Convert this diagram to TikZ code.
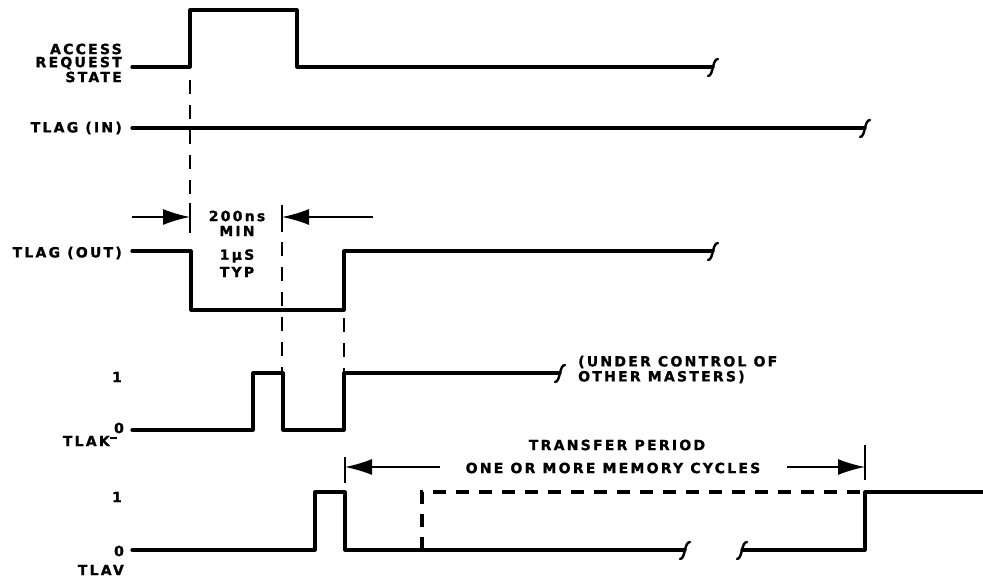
\documentclass[tikz,border=0pt]{standalone}
\usepackage{fontspec}
\setmainfont{DejaVu Sans}[LetterSpace=16, BoldFeatures={FakeBold=1.2}]
\usetikzlibrary{arrows.meta}
\tikzset{
  wave/.style={line width=3.2pt, line join=round, line cap=round},
  dwave/.style={line width=3.2pt, dash pattern=on 13pt off 10pt},
  guide/.style={line width=1.7pt, dash pattern=on 14pt off 11pt},
  tickline/.style={line width=1.7pt},
  dimarrow/.style={line width=1.6pt, -{Latex[length=27pt,width=16pt]}},
  lbl/.style={font=\bfseries\fontsize{14}{15}\selectfont, inner sep=0pt},
  brk/.pic={\draw[line width=2.4pt, line cap=round] (-5,9) .. controls (-2,9) and (-1,4) .. (0,0) .. controls (1,-4) and (2,-8) .. (5,-8);}
}
\begin{document}
\begin{tikzpicture}[x=1pt,y=-1pt]
\useasboundingbox (0,0) rectangle (983,579);

% labels
\node[lbl,anchor=east] (acc1) at (122,49) {ACCESS};
\node[lbl,anchor=east] (acc2) at (122,63) {REQUEST};
\node[lbl,anchor=east] (acc3) at (122,77) {STATE};
\node[lbl,anchor=east] (tin) at (122,128) {TLAG (IN)};
\node[lbl,anchor=east] (tout) at (122,253) {TLAG (OUT)};
\node[lbl] (k1) at (117,377) {1};
\node[lbl] (k0) at (119,428) {0};
\node[lbl,anchor=east] (tlak) at (110,441) {TLAK};
\draw[line width=1.4pt] (110,438) -- (117,438);
\node[lbl] (v1) at (117,497) {1};
\node[lbl] (v0) at (119,551) {0};
\node[lbl,anchor=east] (tlav) at (124,570) {TLAV};

% waveforms
\draw[wave] (132,67) -| (190,10) -| (297,67) -- (713,67);
\pic at (713,67) {brk};
\draw[wave] (132,128) -- (865,128);
\pic at (865,128) {brk};
\draw[wave] (132,251) -| (191,310) -| (344,251) -- (713,251);
\pic at (713,251) {brk};
\draw[wave] (132,430) -| (253,373) -| (283,430) -| (344,373) -- (560,373);
\pic at (560,373) {brk};
\draw[wave] (132,550) -| (315,492) -| (345,550) -- (685,550);
\pic at (685,550) {brk};
\draw[wave] (742,550) -| (865,492) -- (983,492);
\pic at (742,550) {brk};
\draw[dwave] (422,550) -- (422,492) -- (865,492);

% timing guides
\draw[guide] (190,80) -- (190,203);
\draw[tickline] (190,203) -- (190,233);
\draw[tickline] (282,205) -- (282,232);
\draw[guide] (282,242) -- (282,372);
\draw[guide] (344,318) -- (344,372);

\coordinate (a1) at (132,217);
\coordinate (a2) at (190,217);
\coordinate (b1) at (373,217);
\coordinate (b2) at (282,217);
\draw[dimarrow] (a1) -- (a2);
\draw[dimarrow] (b1) -- (b2);

\node[lbl] (t200) at (237,216) {200ns};
\node[lbl] (tmin) at (237,231) {MIN};
\node[lbl] (t1us) at (237,256) {1μS};
\node[lbl] (ttyp) at (237,272) {TYP};

\node[lbl,anchor=west] (uc1) at (578,362) {(UNDER CONTROL OF};
\node[lbl,anchor=west] (uc2) at (578,377) {OTHER MASTERS)};

% transfer period
\draw[tickline] (345,457) -- (345,483);
\draw[tickline] (865,445) -- (865,480);
\coordinate (c1) at (440,467);
\coordinate (c2) at (345,467);
\coordinate (d1) at (787,467);
\coordinate (d2) at (865,467);
\draw[dimarrow] (c1) -- (c2);
\draw[dimarrow] (d1) -- (d2);
\node[lbl] (tp) at (617,445) {TRANSFER PERIOD};
\node[lbl] (om) at (613,468) {ONE OR MORE MEMORY CYCLES};
\end{tikzpicture}
\end{document}
